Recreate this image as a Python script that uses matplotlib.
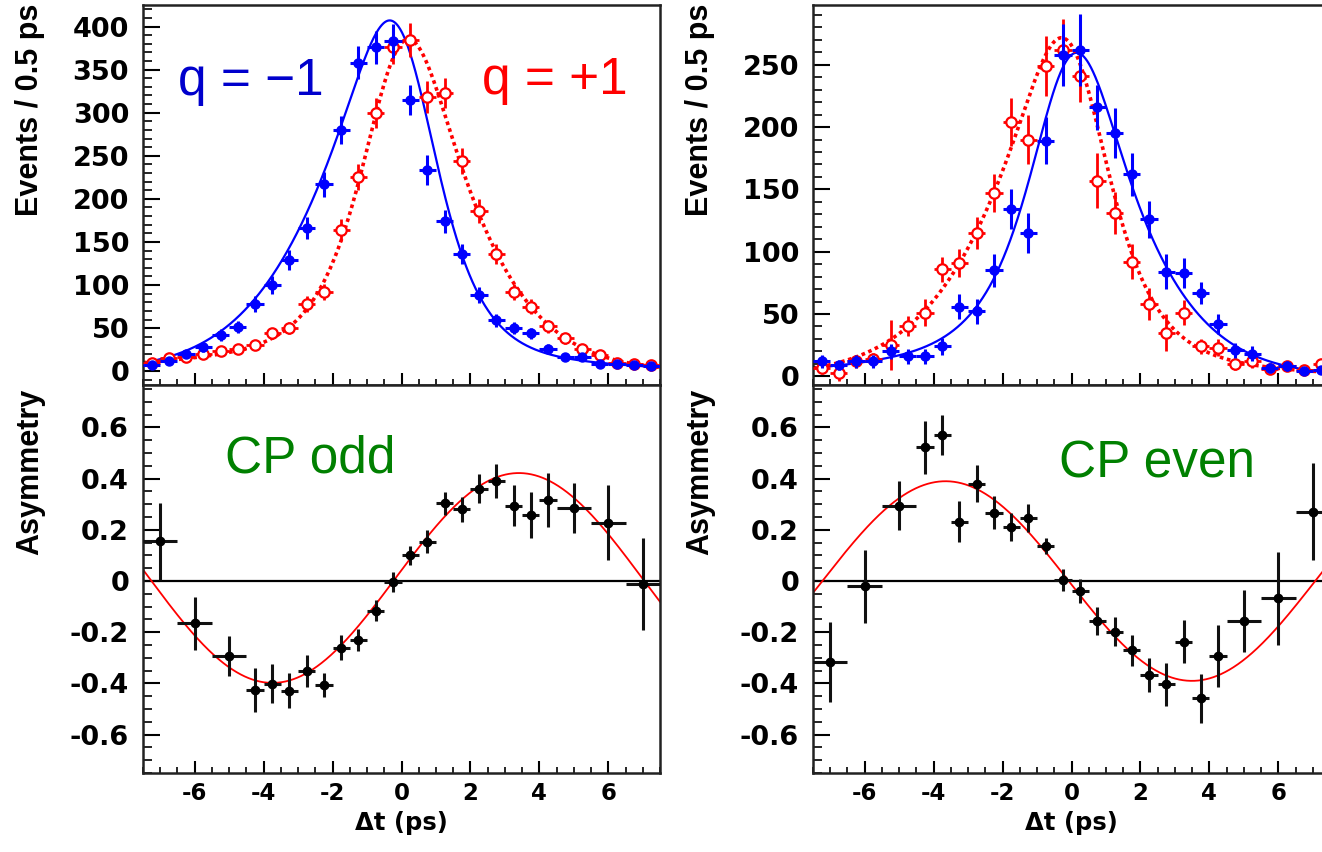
import numpy as np
import matplotlib
matplotlib.use("Agg")
import matplotlib.pyplot as plt
from matplotlib.ticker import MultipleLocator, FuncFormatter

plt.rcParams['axes.unicode_minus'] = False
plt.rcParams['font.family'] = ['DejaVu Sans']
plt.rcParams['font.weight'] = 'bold'

# ---------------- data ----------------
t_bins = [-7.25, -6.75, -6.25, -5.75, -5.25, -4.75, -4.25, -3.75, -3.25, -2.75,
          -2.25, -1.75, -1.25, -0.75, -0.25, 0.25, 0.75, 1.25, 1.75, 2.25,
          2.75, 3.25, 3.75, 4.25, 4.75, 5.25, 5.75, 6.25, 6.75, 7.25]
bin_half = 0.25

# CP odd (left), q = -1 (blue) and q = +1 (red)
odd_qm = [7, 12, 20, 28, 42, 51, 78, 100, 129, 166, 217, 280, 358, 376, 383,
          315, 234, 174, 136, 88, 59, 50, 44, 26, 17, 17, 8, 8, 7, 6]
odd_qm_err = [2.6, 3.5, 4.5, 5.3, 6.5, 7.1, 8.8, 10, 11.4, 12.9, 14.7, 16.7, 18.9, 19.4, 19.6,
              17.7, 17.5, 13.2, 11.7, 9.4, 7.7, 7.1, 6.6, 5.1, 4.1, 4.1, 2.8, 2.8, 2.6, 2.4]
odd_qp = [9, 15, 17, 20, 24, 26, 30, 44, 50, 78, 92, 164, 225, 300, 376,
          384, 318, 323, 244, 186, 136, 92, 75, 52, 38, 26, 19, 10, 8, 7]
odd_qp_err = [3, 3.9, 4.1, 4.5, 4.9, 5.1, 5.5, 6.6, 7.1, 8.8, 9.6, 12.8, 15, 17.3, 19.4,
              19.6, 18.5, 17, 15.6, 13.6, 11.7, 9.6, 8.7, 7.2, 6.2, 5.1, 4.4, 3.2, 2.8, 2.6]

# CP even (right)
even_qm = [12, 9, 12, 12, 20, 16, 16, 24, 56, 52, 85, 134, 115, 189, 258,
           262, 216, 195, 162, 126, 84, 83, 67, 42, 21, 18, 7, 8, 4, 5]
even_qm_err = [5, 4, 5, 5, 6, 6, 6, 7, 10, 10, 13, 16, 16, 19, 25,
               29, 18, 20, 17, 15, 14, 12, 9, 8, 6, 6, 4, 4, 3, 3]
even_qp = [7, 3, 12, 14, 25, 40, 51, 86, 91, 115, 147, 204, 190, 249, 262,
           241, 157, 131, 92, 58, 35, 51, 24, 23, 10, 12, 6, 8, 5, 10]
even_qp_err = [5, 7, 5, 5, 20, 8, 11, 10, 11, 13, 15, 19, 20, 24, 25,
               21, 22, 17, 14, 13, 15, 10, 6, 7, 5, 5, 4, 4, 3, 4]

# asymmetry (variable bins)
asym_t = [-7, -6, -5, -4.25, -3.75, -3.25, -2.75, -2.25, -1.75, -1.25, -0.75, -0.25,
          0.25, 0.75, 1.25, 1.75, 2.25, 2.75, 3.25, 3.75, 4.25, 5, 6, 7]
asym_t_half = [0.5, 0.5, 0.5] + [0.25] * 18 + [0.5, 0.5, 0.5]
asym_odd = [0.156, -0.165, -0.292, -0.426, -0.402, -0.428, -0.352, -0.406, -0.26, -0.23,
            -0.116, -0.003, 0.10, 0.154, 0.303, 0.28, 0.36, 0.39, 0.294, 0.258,
            0.316, 0.284, 0.228, -0.012]
asym_odd_err = [0.15, 0.104, 0.079, 0.086, 0.076, 0.068, 0.062, 0.046, 0.049, 0.042,
                0.04, 0.039, 0.037, 0.044, 0.044, 0.05, 0.057, 0.066, 0.08, 0.089,
                0.105, 0.098, 0.146, 0.181]
asym_even = [-0.315, -0.02, 0.294, 0.522, 0.57, 0.232, 0.381, 0.267, 0.212, 0.247,
             0.137, 0.004, -0.038, -0.155, -0.198, -0.27, -0.367, -0.404, -0.237, -0.458,
             -0.293, -0.156, -0.068, 0.271]
asym_even_err = [0.156, 0.143, 0.096, 0.104, 0.078, 0.081, 0.072, 0.065, 0.055, 0.055,
                 0.03, 0.042, 0.046, 0.054, 0.057, 0.061, 0.068, 0.085, 0.085, 0.095,
                 0.122, 0.12, 0.182, 0.189]

# fit-model parameters
TAU_NEG, TAU_POS, SIGMA_RES, OMEGA = 1.85, 1.55, 0.7, np.pi / 7.1
ODD_S, ODD_N_QM, ODD_N_QP = 0.50, 531, 517
EVEN_S, EVEN_N_QM, EVEN_N_QP = -0.40, 350, 358
ASYM_ODD = dict(off=0.012, amp=0.41, t0=-0.17, half_period=7.15)
ASYM_EVEN = dict(off=0.0, amp=-0.39, t0=-0.08, half_period=7.15)


def decay_model(t, norm, s_amp, q):
    ds = 0.01
    s = np.linspace(-20, 20, 4001)
    env = np.where(s < 0, np.exp(s / TAU_NEG), np.exp(-s / TAU_POS))
    true = env * (1 + q * s_amp * np.sin(OMEGA * s))
    kern = np.exp(-0.5 * (s / SIGMA_RES) ** 2) / (SIGMA_RES * np.sqrt(2 * np.pi))
    conv = np.convolve(true, kern, mode='same') * ds
    return norm * np.interp(t, s, conv)


def asym_model(t, off, amp, t0, half_period):
    return off + amp * np.sin(np.pi * (t - t0) / half_period)


# ---------------- figure ----------------
W, H = 1322, 852
fig = plt.figure(figsize=(W / 100, H / 100), dpi=100)


def rect(x0, y0, x1, y1):
    return [x0 / W, 1 - y1 / H, (x1 - x0) / W, (y1 - y0) / H]


ax_tl = fig.add_axes(rect(143, 5, 660, 385))
ax_bl = fig.add_axes(rect(143, 385, 660, 773))
ax_tr = fig.add_axes(rect(813, 5, 1330, 385))
ax_br = fig.add_axes(rect(813, 385, 1330, 773))

BLUE = '#0000ff'
RED = '#ff0000'
tt = np.linspace(-7.5, 7.5, 1500)
fmt = FuncFormatter(lambda v, p: f"{round(v, 6):g}")

for ax in (ax_tl, ax_bl, ax_tr, ax_br):
    ax.set_xlim(-7.5, 7.5)
    ax.xaxis.set_major_locator(MultipleLocator(2))
    ax.xaxis.set_minor_locator(MultipleLocator(0.5))
    ax.tick_params(which='both', direction='in', top=False, right=False)
    ax.tick_params(axis='y', which='major', length=12, width=1.5, labelsize=19.5, pad=10)
    ax.tick_params(axis='y', which='minor', length=6.5, width=1.2)
    ax.tick_params(axis='x', which='major', length=8.5, width=1.5, labelsize=16.5, pad=6.5)
    ax.tick_params(axis='x', which='minor', length=4, width=1.2)
    ax.yaxis.set_major_formatter(fmt)
    ax.xaxis.set_major_formatter(fmt)
    for sp in ax.spines.values():
        sp.set_linewidth(1.8)
        sp.set_color('#222222')

for ax in (ax_tl, ax_tr):
    ax.tick_params(axis='x', labelbottom=False)
    ax.yaxis.set_major_locator(MultipleLocator(50))
    ax.yaxis.set_minor_locator(MultipleLocator(10))
for ax in (ax_bl, ax_br):
    ax.set_ylim(-0.75, 0.766)
    ax.yaxis.set_major_locator(MultipleLocator(0.2))
    ax.yaxis.set_minor_locator(MultipleLocator(0.05))
    ax.axhline(0, color='black', lw=1.6, zorder=1)

ax_tl.set_ylim(-16, 425)
ax_tr.set_ylim(-7, 298)


def draw_top(ax, qm, qm_err, qp, qp_err, s_amp, n_qm, n_qp):
    ax.plot(tt, decay_model(tt, n_qm, s_amp, -1), color=BLUE, lw=1.6, zorder=2)
    ax.plot(tt, decay_model(tt, n_qp, s_amp, +1), color=RED, lw=2.6,
            linestyle=(0, (1.0, 1.0)), zorder=2)
    ax.errorbar(t_bins, qp, yerr=qp_err, xerr=bin_half, fmt='o', ms=7.5,
                mfc='white', mec=RED, mew=1.6, ecolor=RED, elinewidth=2.0,
                capsize=0, zorder=3)
    ax.errorbar(t_bins, qm, yerr=qm_err, xerr=bin_half, fmt='o', ms=6.5,
                mfc=BLUE, mec=BLUE, ecolor=BLUE, elinewidth=2.2,
                capsize=0, zorder=4)


draw_top(ax_tl, odd_qm, odd_qm_err, odd_qp, odd_qp_err, ODD_S, ODD_N_QM, ODD_N_QP)
draw_top(ax_tr, even_qm, even_qm_err, even_qp, even_qp_err, EVEN_S, EVEN_N_QM, EVEN_N_QP)


def draw_asym(ax, vals, errs, pars):
    ax.plot(tt, asym_model(tt, **pars), color=RED, lw=1.3, zorder=2)
    ax.errorbar(asym_t, vals, yerr=errs, xerr=asym_t_half, fmt='o', ms=6,
                color='black', ecolor='#111111', elinewidth=2.2, capsize=0, zorder=3)


draw_asym(ax_bl, asym_odd, asym_odd_err, ASYM_ODD)
draw_asym(ax_br, asym_even, asym_even_err, ASYM_EVEN)

# ---------------- texts ----------------
def fx(px):
    return px / W


def fy(py):
    return 1 - py / H


ylab_font = dict(family=['Liberation Sans Narrow', 'Liberation Sans'], weight='bold', size=22)
for x0 in (30, 700):
    fig.text(fx(x0), fy(4), "Events / 0.5 ps", rotation=90, ha='center', va='top', **ylab_font)
    fig.text(fx(x0), fy(389), "Asymmetry", rotation=90, ha='center', va='top', **ylab_font)
for xc in (401, 1071):
    fig.text(fx(xc), fy(830), "\u0394t (ps)", ha='center', va='baseline',
             family='DejaVu Sans', weight='bold', size=17.5)

ann = dict(family='Liberation Sans', weight='normal', size=37, ha='left', va='baseline')
fig.text(fx(178), fy(95), "q = \u22121", color='#0000cc', **ann)
fig.text(fx(482), fy(94), "q = +1", color=RED, **ann)
fig.text(fx(225), fy(473), "CP odd", color='#008000', **ann)
fig.text(fx(1059), fy(478), "CP even", color='#008000', **ann)

fig.savefig("out.png", dpi=100)
